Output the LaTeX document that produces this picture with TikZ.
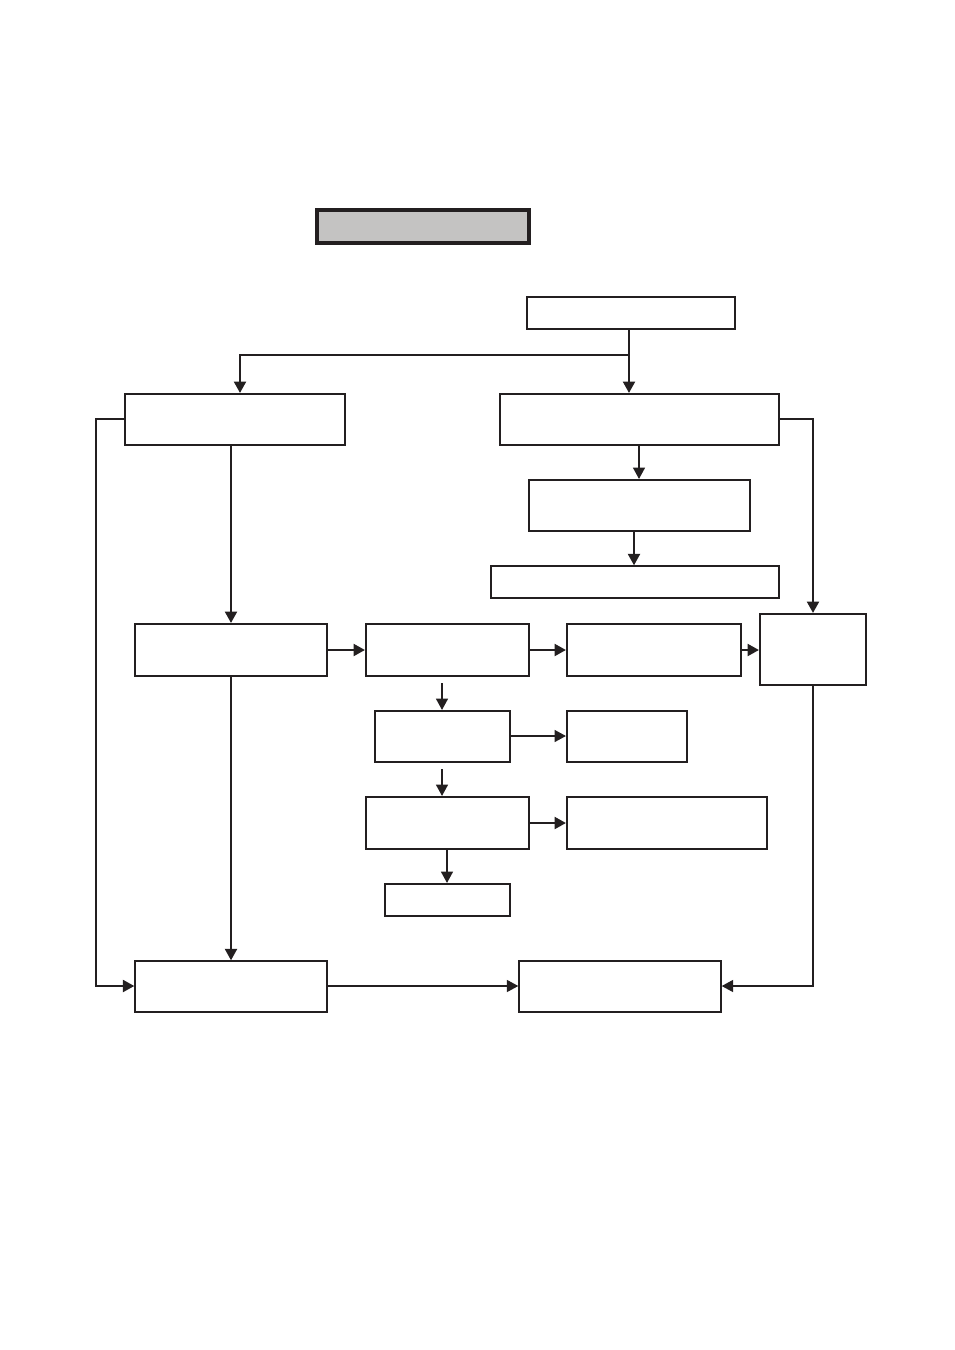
\documentclass[tikz,border=0pt]{standalone}
\usetikzlibrary{arrows.meta,fit}
\definecolor{ink}{HTML}{231F20}
\definecolor{titlegray}{HTML}{C4C3C2}
\begin{document}
\begin{tikzpicture}[x=0.75pt,y=-0.75pt,
  box/.style={draw=ink,line width=1.6pt,inner sep=0pt,fill=white},
  thinbox/.style={draw=ink,line width=1.1pt,inner sep=0pt,fill=white},
  titlebox/.style={draw=ink,line width=2.5pt,inner sep=0pt,fill=titlegray},
  arr/.style={draw=ink,line width=1.5pt,-{Triangle[length=8.5pt,width=9pt]}},
  tarr/.style={draw=ink,line width=1pt,-{Triangle[length=8.5pt,width=9pt]}},
  ln/.style={draw=ink,line width=1.5pt}]
\useasboundingbox (0,0) rectangle (954,1350);
% boxes
\node[titlebox,fit={(317,210)(529,243)}] (T) {};
\node[box,fit={(527,297)(735,329)}] (A) {};
\node[box,fit={(125,394)(345,445)}] (B) {};
\node[box,fit={(500,394)(779,445)}] (C) {};
\node[box,fit={(529,480)(750,531)}] (D) {};
\node[thinbox,fit={(491,566)(779,598)}] (E) {};
\node[box,fit={(135,624)(327,676)}] (F) {};
\node[box,fit={(366,624)(529,676)}] (G) {};
\node[box,fit={(567,624)(741,676)}] (H) {};
\node[box,fit={(760,614)(866,685)}] (I) {};
\node[box,fit={(375,711)(510,762)}] (J) {};
\node[box,fit={(567,711)(687,762)}] (K) {};
\node[box,fit={(366,797)(529,849)}] (L) {};
\node[box,fit={(567,797)(767,849)}] (M) {};
\node[box,fit={(385,884)(510,916)}] (N) {};
\node[thinbox,fit={(135,961)(327,1012)}] (O) {};
\node[thinbox,fit={(519,961)(721,1012)}] (P) {};
% helper coordinates
\coordinate (xa) at (629,0);
\coordinate (xb) at (240,355);
\coordinate (xc) at (639,0);
\coordinate (xd) at (634,0);
\coordinate (xr) at (813,0);
\coordinate (xl) at (96,0);
\coordinate (xf) at (231,0);
\coordinate (xl2) at (447,0);
\coordinate (s1) at (442,683);
\coordinate (s2) at (442,769);
\coordinate (yj) at (0,736);
\coordinate (yl) at (0,823);
\coordinate (yb) at (0,419);
\coordinate (yo) at (0,986);
\coordinate (yi) at (0,650);
% connectors
\draw[arr] (A.south -| xa) -- (C.north -| xa);
\draw[arr] (xa |- xb) -- (xb) -- (B.north -| xb);
\draw[tarr] (C.south -| xc) -- (D.north -| xc);
\draw[arr] (D.south -| xd) -- (E.north -| xd);
\draw[arr] (C.east |- yb) -- (xr |- yb) -- (I.north -| xr);
\draw[arr] (B.west |- yb) -- (xl |- yb) -- (xl |- yo) -- (O.west |- yo);
\draw[arr] (B.south -| xf) -- (F.north -| xf);
\draw[arr] (F.east |- yi) -- (G.west |- yi);
\draw[arr] (G.east |- yi) -- (H.west |- yi);
\draw[arr] (H.east |- yi) -- (I.west |- yi);
\draw[tarr] (s1) -- (J.north -| s1);
\draw[tarr] (J.east |- yj) -- (K.west |- yj);
\draw[tarr] (s2) -- (L.north -| s2);
\draw[arr] (L.east |- yl) -- (M.west |- yl);
\draw[tarr] (L.south -| xl2) -- (N.north -| xl2);
\draw[arr] (F.south -| xf) -- (O.north -| xf);
\draw[tarr] (O.east |- yo) -- (P.west |- yo);
\draw[tarr] (I.south -| xr) -- (xr |- yo) -- (P.east |- yo);
\end{tikzpicture}
\end{document}
